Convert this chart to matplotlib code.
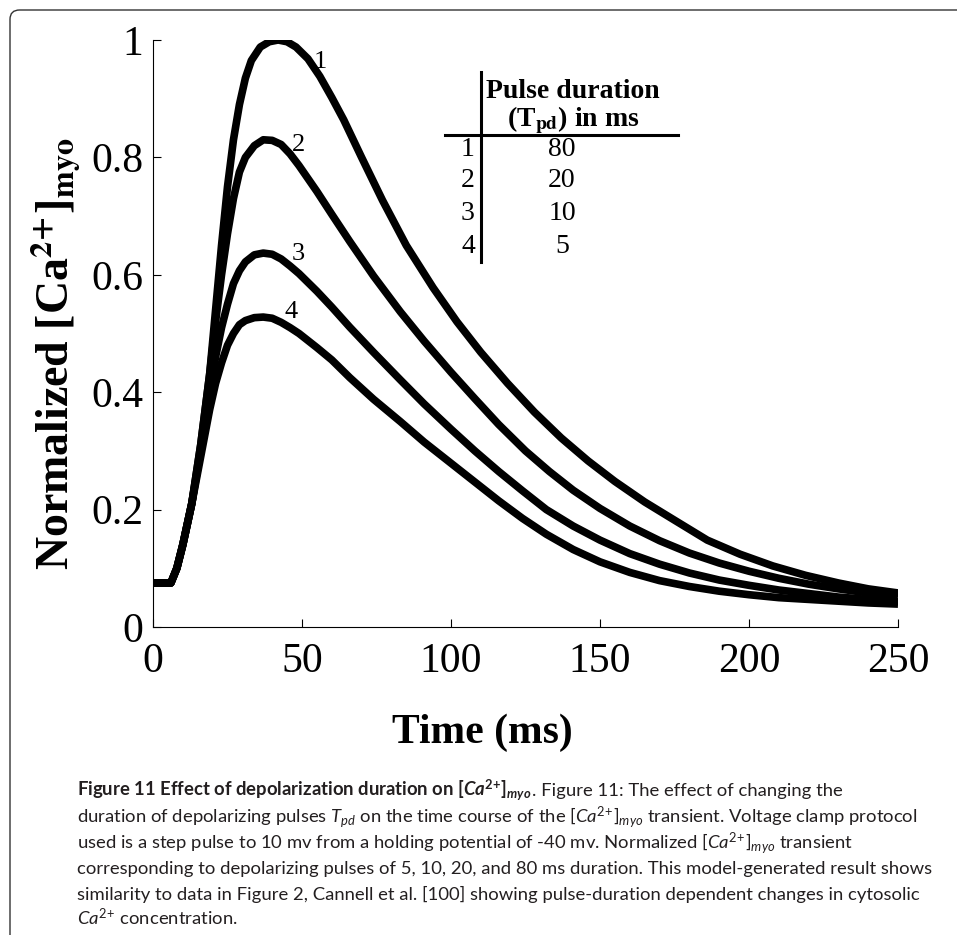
import matplotlib
matplotlib.use("Agg")
import matplotlib.pyplot as plt
from matplotlib.patches import FancyBboxPatch

# ---- data ----
time1 = [0, 6, 8, 10, 13, 16, 19, 21, 23, 25, 27, 29, 31, 33, 36, 39, 42, 45, 48, 52,
         56, 60, 64, 70, 77, 85, 94, 102, 110, 119, 128, 137, 146, 155, 165, 175, 186,
         197, 208, 219, 230, 240, 250]
ca1 = [0.075, 0.075, 0.10, 0.14, 0.21, 0.31, 0.43, 0.54, 0.65, 0.75, 0.83, 0.89, 0.935,
       0.965, 0.988, 0.997, 1.0, 0.997, 0.988, 0.968, 0.938, 0.902, 0.864, 0.80, 0.727,
       0.65, 0.578, 0.52, 0.468, 0.415, 0.366, 0.322, 0.283, 0.248, 0.213, 0.182, 0.148,
       0.124, 0.104, 0.088, 0.075, 0.065, 0.058]

time2 = [0, 6, 8, 10, 13, 16, 19, 21, 23, 25, 27, 29, 31, 34, 37, 40, 43, 46, 49, 55, 60,
         66, 74, 83, 91, 100, 108, 116, 125, 133, 141, 150, 160, 170, 180, 190, 200, 210,
         220, 230, 240, 250]
ca2 = [0.075, 0.075, 0.10, 0.14, 0.21, 0.31, 0.43, 0.52, 0.60, 0.67, 0.73, 0.775, 0.80,
       0.82, 0.83, 0.829, 0.822, 0.806, 0.786, 0.742, 0.703, 0.657, 0.598, 0.537, 0.487,
       0.434, 0.389, 0.345, 0.30, 0.265, 0.233, 0.202, 0.172, 0.147, 0.126, 0.109,
       0.095, 0.083, 0.073, 0.065, 0.058, 0.052]

time3 = [0, 6, 8, 10, 13, 16, 19, 21, 23, 25, 27, 29, 31, 34, 37, 40, 43, 46, 49, 55, 60,
         66, 74, 83, 91, 100, 108, 116, 124, 132, 141, 150, 160, 170, 180, 190, 200, 210,
         220, 230, 240, 250]
ca3 = [0.075, 0.075, 0.10, 0.14, 0.21, 0.30, 0.40, 0.46, 0.51, 0.55, 0.585, 0.607, 0.622,
       0.634, 0.637, 0.635, 0.627, 0.615, 0.602, 0.572, 0.545, 0.511, 0.468, 0.421, 0.38,
       0.337, 0.30, 0.265, 0.232, 0.200, 0.172, 0.148, 0.125, 0.107, 0.092, 0.080,
       0.071, 0.063, 0.057, 0.051, 0.047, 0.043]

time4 = [0, 6, 8, 10, 13, 16, 19, 21, 23, 25, 27, 29, 31, 34, 37, 40, 43, 46, 49, 55, 60,
         66, 74, 83, 91, 100, 108, 116, 124, 132, 141, 150, 160, 170, 180, 190, 200, 210,
         220, 230, 240, 250]
ca4 = [0.075, 0.075, 0.10, 0.14, 0.21, 0.29, 0.37, 0.415, 0.45, 0.48, 0.50, 0.515, 0.522,
       0.527, 0.528, 0.526, 0.519, 0.51, 0.50, 0.476, 0.455, 0.425, 0.388, 0.35, 0.315,
       0.279, 0.247, 0.215, 0.185, 0.158, 0.132, 0.111, 0.093, 0.079, 0.069, 0.061,
       0.055, 0.050, 0.047, 0.044, 0.041, 0.039]

curve_ids = ["1", "2", "3", "4"]
pulse_ms = ["80", "20", "10", "5"]
xticks = [0, 50, 100, 150, 200, 250]
yticks = [0, 0.2, 0.4, 0.6, 0.8, 1]
ytick_labels = ["0", "0.2", "0.4", "0.6", "0.8", "1"]

caption = [
    [(r"Figure 11 Effect of depolarization duration on [$\mathbfit{Ca}^{\mathbf{2\!+\!}}$]$_{\mathbfit{myo}}$", "bold"),
     (". Figure 11: The effect of changing the", "normal")],
    [(r"duration of depolarizing pulses $T_{pd}$ on the time course of the [$Ca^{2\!+\!}$]$_{myo}$ transient. Voltage clamp protocol", "normal")],
    [(r"used is a step pulse to 10 mv from a holding potential of -40 mv. Normalized [$Ca^{2\!+\!}$]$_{myo}$ transient", "normal")],
    [("corresponding to depolarizing pulses of 5, 10, 20, and 80 ms duration. This model-generated result shows", "normal")],
    [("similarity to data in Figure 2, Cannell et al. [100] showing pulse-duration dependent changes in cytosolic", "normal")],
    [(r"$Ca^{2\!+\!}$ concentration.", "normal")],
]

plt.rcParams["font.family"] = "Liberation Serif"
plt.rcParams["mathtext.fontset"] = "custom"
plt.rcParams["mathtext.rm"] = "Lato"
plt.rcParams["mathtext.it"] = "Lato:italic"
plt.rcParams["mathtext.bf"] = "Lato:bold"
plt.rcParams["mathtext.bfit"] = "Lato:italic:bold"

W, H = 957, 935
fig = plt.figure(figsize=(W / 100, H / 100), dpi=100)
ax = fig.add_axes([153 / W, 308 / H, 745 / W, 587 / H])

times = [time1, time2, time3, time4]
cas = [ca1, ca2, ca3, ca4]
for t, c in zip(times, cas):
    ax.plot(t, c, color="black", lw=5.5, solid_capstyle="butt", solid_joinstyle="round")

# curve numbers
label_xy = [(56, 0.962), (48.7, 0.821), (48.7, 0.635), (46.3, 0.537)]
for lab, (x, y) in zip(curve_ids, label_xy):
    ax.text(x, y, lab, fontsize=19, ha="center", va="center")

ax.set_xlim(0, 250)
ax.set_ylim(0, 1)
ax.set_xticks(xticks)
ax.set_yticks(yticks)
ax.set_yticklabels(ytick_labels)
for s in ["top", "right"]:
    ax.spines[s].set_visible(False)
for s in ["left", "bottom"]:
    ax.spines[s].set_linewidth(0.8)
ax.tick_params(direction="in", length=6, width=0.8, labelsize=30)
ax.tick_params(axis="x", pad=11)
ax.tick_params(axis="y", pad=7)

ax.set_xlabel("Time (ms)", fontsize=30, fontweight="bold")
ax.xaxis.set_label_coords(0.442, -0.147)
ax.set_ylabel(r"Normalized [Ca$^{\mathbf{2\!+\!}}$]$_{\mathbf{myo}}$", fontsize=33,
              fontweight="bold", math_fontfamily="stix")
ax.yaxis.set_label_coords(-0.095, 0.465)

# small table
ax.plot([0.440, 0.440], [0.622, 0.945], color="black", lw=2.2, transform=ax.transAxes, clip_on=False)
ax.plot([0.392, 0.705], [0.838, 0.838], color="black", lw=2.2, transform=ax.transAxes, clip_on=False)
ax.text(0.564, 0.913, "Pulse duration", fontsize=20, fontweight="bold",
        ha="center", va="center", transform=ax.transAxes)
ax.text(0.564, 0.864, r"(T$_{\mathbf{pd}}$) in ms", fontsize=20, fontweight="bold",
        ha="center", va="center", transform=ax.transAxes, math_fontfamily="stix")
row_y = [0.814, 0.760, 0.705, 0.649]
for cid, ms, y in zip(curve_ids, pulse_ms, row_y):
    ax.text(0.432, y, cid, fontsize=20, ha="right", va="center", transform=ax.transAxes)
    ax.text(0.549, y, ms, fontsize=20, ha="center", va="center", transform=ax.transAxes)

# frame around the figure
frame = FancyBboxPatch((10 / W, -0.05), 1.1, (H - 10) / H + 0.05,
                       boxstyle="round,pad=0,rounding_size=0.01",
                       transform=fig.transFigure, fill=False, ec="#333333", lw=1)
fig.add_artist(frame)

# caption, built piece by piece
renderer = fig.canvas.get_renderer()
line_y = [796, 822, 848, 874, 900, 925]
for segs, py in zip(caption, line_y):
    x = 77
    for txt, wt in segs:
        t = fig.text(x / W, 1 - py / H, txt, fontsize=13.3, fontweight=wt, family="Lato",
                     color="#231f20", ha="left", va="baseline")
        bb = t.get_window_extent(renderer=renderer)
        x = bb.x1

fig.savefig("out.png", dpi=100)
